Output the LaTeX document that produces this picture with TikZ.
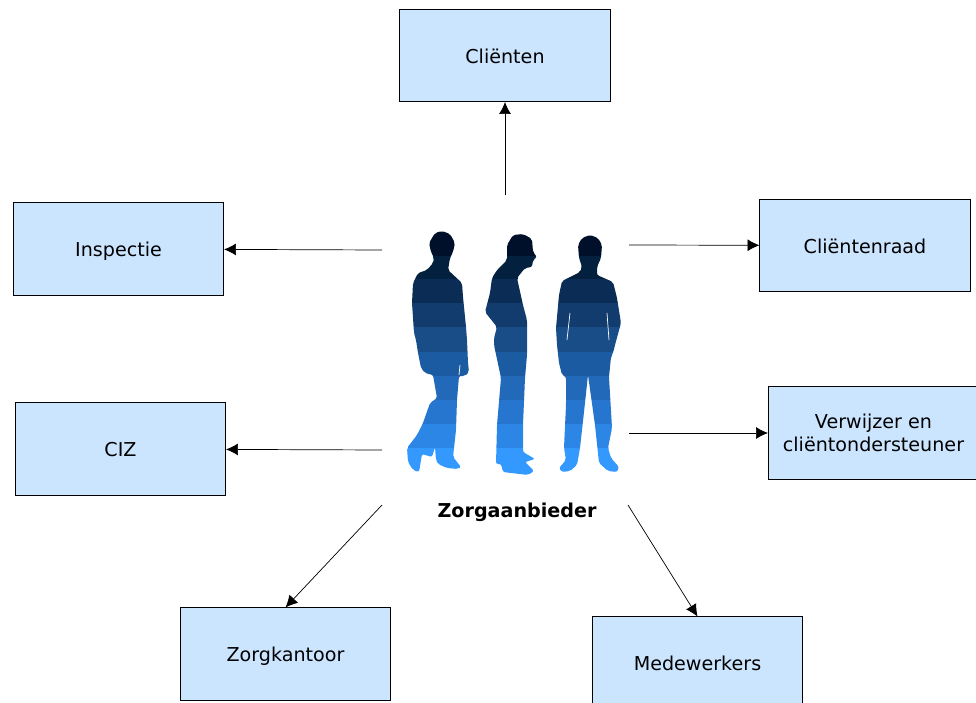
\documentclass[tikz,border=0pt]{standalone}
\usepackage{fontspec}
\setmainfont{DejaVu Sans}
\usepackage{tikz}
\usetikzlibrary{shapes,positioning,calc}
\usetikzlibrary{arrows.meta}
\definecolor{boxblue}{HTML}{CCE5FF}
\definecolor{band0}{HTML}{00102A}
\definecolor{band1}{HTML}{03213F}
\definecolor{band2}{HTML}{0B2D55}
\definecolor{band3}{HTML}{123C6E}
\definecolor{band4}{HTML}{184D88}
\definecolor{band5}{HTML}{1B5BA2}
\definecolor{band6}{HTML}{2269B9}
\definecolor{band7}{HTML}{2676CF}
\definecolor{band8}{HTML}{2B86E5}
\definecolor{band9}{HTML}{3399FF}
\tikzstyle{partij} = [rectangle, minimum width=5.25cm, minimum height=2.3cm, text centered, align=center, text height=10.7pt, text depth=0pt, draw=black, line width=0.7pt, fill=boxblue, font=\fontsize{13.6}{17}\selectfont]
\tikzstyle{arrow} = [line width=0.5pt,-{Latex[length=8.5pt,width=8.5pt]}]
\tikzstyle{spleet} = [white, line width=0.5pt]

\begin{document}
\begin{tikzpicture}[x=0.025cm,y=-0.025cm]
	\useasboundingbox (0,0) rectangle (976,703);
	\clip (0,0) rectangle (976,703);
	% silhouettes
	\begin{scope}
		\clip[rounded corners=1.5pt] (429,243) -- (435,233) -- (442,231) -- (450,234) -- (455,243) -- (453,252) -- (450,258) -- (448,270) -- (462,283) -- (463,297) -- (466,327) -- (467,340) -- (468,363) -- (469,372) -- (465,376) -- (459,376) -- (457,400) -- (456,430) -- (453,457) -- (461,467) -- (458,469) -- (447,468) -- (438,464) -- (436,460) -- (435,447) -- (432,457) -- (422,454) -- (419,472) -- (413,470) -- (408,462) -- (407,448) -- (417,435) -- (423,423) -- (430,403) -- (437,398) -- (433,375) -- (425,373) -- (421,368) -- (418,353) -- (416,340) -- (414,333) -- (412,303) -- (413,283) -- (418,273) -- (427,270) -- (433,263) -- (434,258) -- (431,252) -- cycle
		(507,245) -- (513,235) -- (523,234) -- (532,239) -- (533,252) -- (537,257) -- (533,260) -- (532,267) -- (525,268) -- (517,278) -- (523,305) -- (527,320) -- (527,355) -- (525,378) -- (523,425) -- (523,452) -- (535,459) -- (525,462) -- (534,471) -- (528,475) -- (503,472) -- (501,464) -- (496,464) -- (497,425) -- (501,378) -- (494,345) -- (494,338) -- (497,327) -- (485,312) -- (490,293) -- (492,278) -- (497,270) -- (507,260) -- cycle
		(578,245) -- (582,238) -- (590,235) -- (598,238) -- (602,245) -- (601,258) -- (597,267) -- (597,275) -- (613,282) -- (617,298) -- (621,323) -- (615,345) -- (613,353) -- (611,357) -- (609,377) -- (612,428) -- (608,448) -- (611,458) -- (619,467) -- (617,472) -- (608,471) -- (599,463) -- (595,425) -- (588,375) -- (584,412) -- (580,448) -- (577,465) -- (570,471) -- (562,472) -- (559,468) -- (566,460) -- (564,448) -- (566,405) -- (566,377) -- (562,375) -- (559,363) -- (557,345) -- (556,328) -- (559,295) -- (562,281) -- (580,272) -- (582,267) -- (579,258) -- cycle;
		\foreach \i/\ytop/\ybot in {0/225/256,1/256/279,2/279/303,3/303/327,4/327/352,5/352/376,6/376/400,7/400/424,8/424/448,9/448/480}
			\fill[band\i] (400,\ytop) rectangle (625,\ybot);
	\end{scope}
	\draw[spleet] (570,313) -- (567,340);
	\draw[spleet] (607,313) -- (609,340);
	\draw[spleet] (460,365) -- (459,375);
	% parties
	\node (clienten) at (505,55.5) [partij] {Cliënten};
	\node (inspectie) at (118.5,249) [partij] {Inspectie};
	\node (raad) at (865,245.5) [partij] {Cliëntenraad};
	\node (verwijzer) at (873.5,433) [partij, text height=27pt] {Verwijzer en\\cliëntondersteuner};
	\node (ciz) at (120.5,449) [partij] {CIZ};
	\node (kantoor) at (285.5,654) [partij] {Zorgkantoor};
	\node (medewerkers) at (697.5,663) [partij] {Medewerkers};
	\node (aanbieder) at (517,512) [font=\fontsize{13.6}{15}\selectfont\bfseries] {Zorgaanbieder};
	\coordinate (vanclienten) at (505,195);
	\coordinate (vaninspectie) at (382,250);
	\coordinate (vanraad) at (629,245);
	\coordinate (vanverwijzer) at (629,433);
	\coordinate (vanciz) at (382,450);
	\coordinate (vankantoor) at (382,505);
	\coordinate (vanmedewerkers) at (628,505);
	\draw[arrow] (vanclienten) -- (clienten);
	\draw[arrow] (vaninspectie) -- (inspectie);
	\draw[arrow] (vanraad) -- (raad);
	\draw[arrow] (vanverwijzer) -- (verwijzer);
	\draw[arrow] (vanciz) -- (ciz);
	\draw[arrow] (vankantoor) -- (kantoor.north);
	\draw[arrow] (vanmedewerkers) -- (medewerkers.north);
\end{tikzpicture}
\end{document}
